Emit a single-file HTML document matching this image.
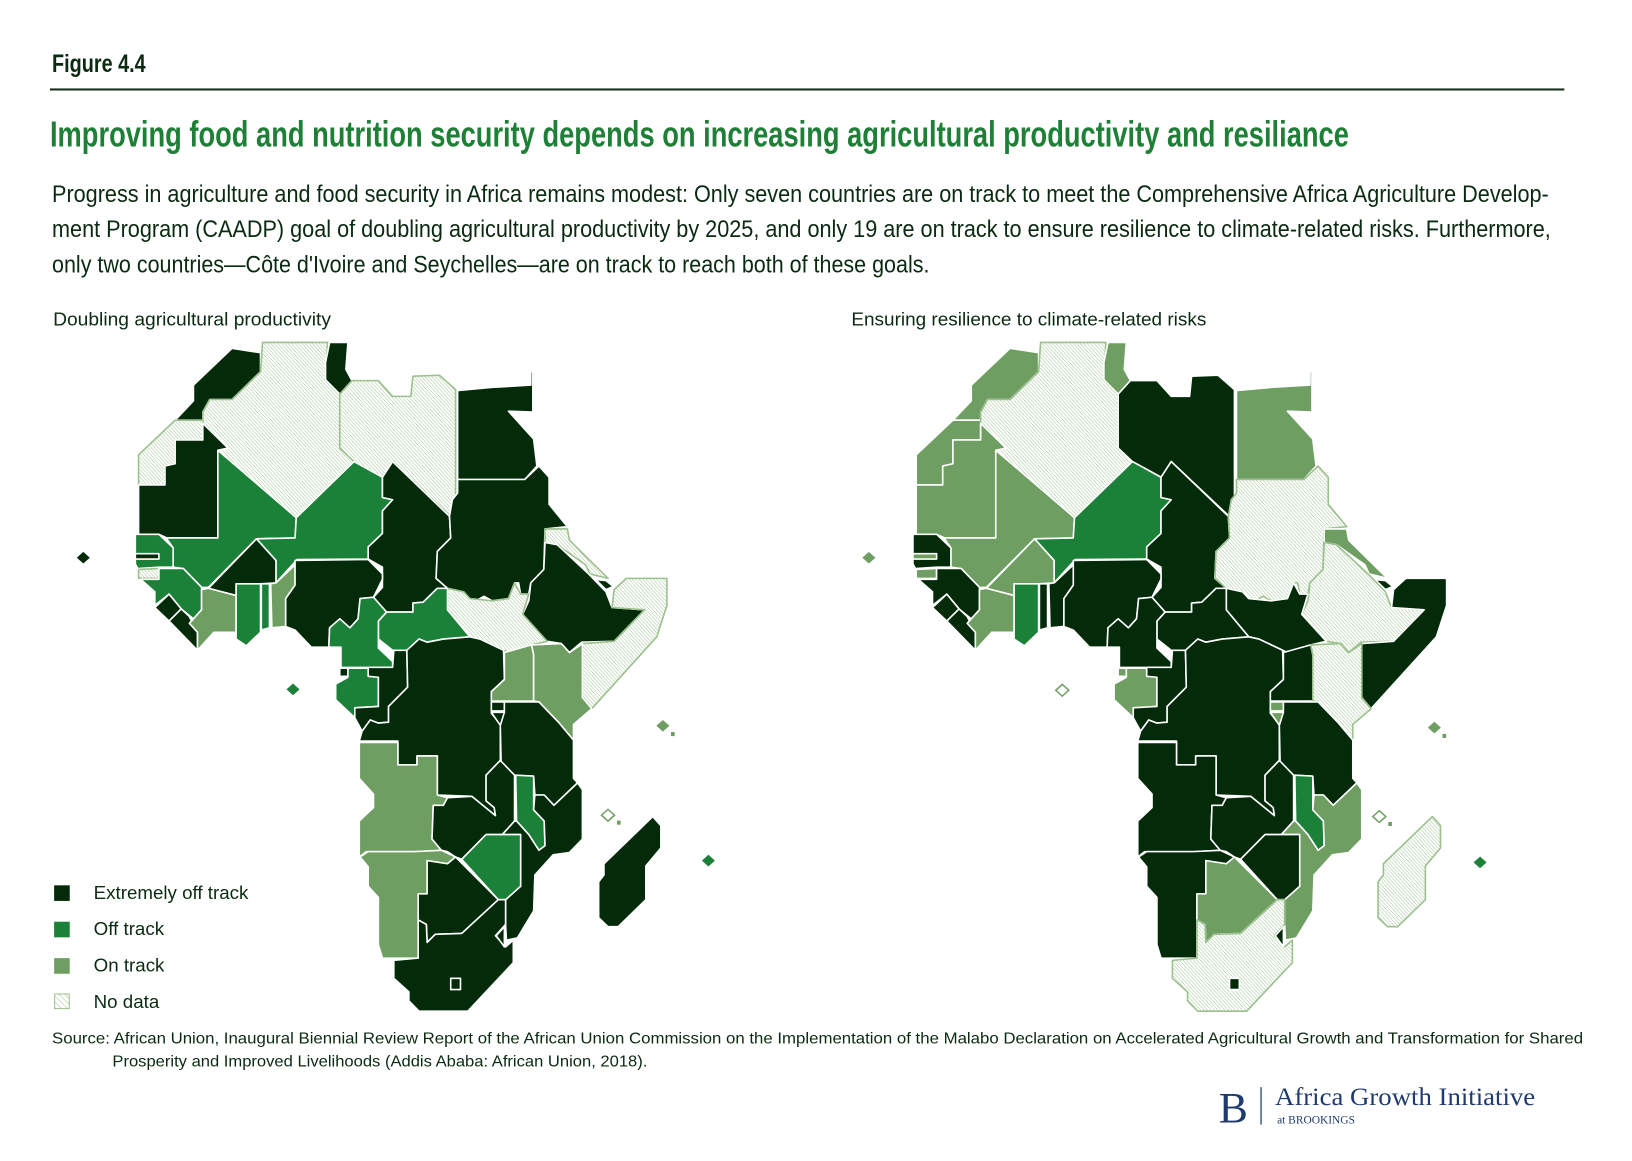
<!DOCTYPE html>
<html><head><meta charset="utf-8"><style>
html,body{margin:0;padding:0;background:#fff;}
svg{display:block;}
text{font-family:"Liberation Sans Narrow","Liberation Sans",sans-serif;}
</style></head><body>
<svg id="page" width="1632" height="1161" viewBox="0 0 1568 1116" preserveAspectRatio="none" xmlns="http://www.w3.org/2000/svg">
<defs>
<pattern id="hatch" patternUnits="userSpaceOnUse" width="6" height="6" patternTransform="rotate(-45)">
<rect width="6" height="6" fill="#fff"/><line x1="0" y1="0" x2="0" y2="6" stroke="#9cc08e" stroke-width="2.2"/>
</pattern>
<pattern id="hatch2" patternUnits="userSpaceOnUse" width="4" height="4" patternTransform="rotate(-45)">
<rect width="4" height="4" fill="#fff"/><line x1="0" y1="0" x2="0" y2="4" stroke="#9cc08e" stroke-width="1"/>
</pattern>
</defs>
<text x="50" y="69" font-size="24" font-weight="bold" fill="#0b2a12" textLength="90" lengthAdjust="spacingAndGlyphs">Figure 4.4</text>
<rect x="48" y="85" width="1455" height="2" fill="#1a2e1c"/>
<text x="48" y="141" font-size="35" font-weight="bold" fill="#1e7f36" textLength="1248" lengthAdjust="spacingAndGlyphs">Improving food and nutrition security depends on increasing agricultural productivity and resiliance</text>
<g font-size="23" fill="#0b2a12">
<text x="50" y="194" textLength="1438" lengthAdjust="spacingAndGlyphs">Progress in agriculture and food security in Africa remains modest: Only seven countries are on track to meet the Comprehensive Africa Agriculture Develop-</text>
<text x="50" y="228" textLength="1440" lengthAdjust="spacingAndGlyphs">ment Program (CAADP) goal of doubling agricultural productivity by 2025, and only 19 are on track to ensure resilience to climate-related risks. Furthermore,</text>
<text x="50" y="262" textLength="843" lengthAdjust="spacingAndGlyphs">only two countries—Côte d'Ivoire and Seychelles—are on track to reach both of these goals.</text>
</g>
<text x="51" y="313" font-size="18" fill="#0b2a12" textLength="267" lengthAdjust="spacingAndGlyphs">Doubling agricultural productivity</text>
<text x="818" y="313" font-size="18" fill="#0b2a12" textLength="341" lengthAdjust="spacingAndGlyphs">Ensuring resilience to climate-related risks</text>

<g id="mapL" transform="translate(98,327) scale(0.3905,0.432)"></g>
<g id="mapR" transform="translate(845,327) scale(0.392,0.432)"></g>

<g font-size="18" fill="#0b2a12">
<g><rect x="52" y="851" width="15" height="15" fill="#032b0a"/><text x="90" y="864">Extremely off track</text></g>
<g><rect x="52" y="886" width="15" height="15" fill="#1b8038"/><text x="90" y="899">Off track</text></g>
<g><rect x="52" y="921" width="15" height="15" fill="#6f9e62"/><text x="90" y="934">On track</text></g>
<g><rect x="52.5" y="955.5" width="14" height="14" fill="url(#hatch2)" stroke="#9cc08e"/><text x="90" y="969">No data</text></g>
</g>
<g font-size="15" fill="#0b2a12">
<text x="50" y="1003" textLength="1471" lengthAdjust="spacingAndGlyphs">Source: African Union, Inaugural Biennial Review Report of the African Union Commission on the Implementation of the Malabo Declaration on Accelerated Agricultural Growth and Transformation for Shared</text>
<text x="108" y="1025" textLength="514" lengthAdjust="spacingAndGlyphs">Prosperity and Improved Livelihoods (Addis Ababa: African Union, 2018).</text>
</g>
<g fill="#1f3a6e" font-family="'Liberation Serif',serif">
<text x="1171" y="1079" font-size="42" style="font-family:'Liberation Serif',serif">B</text>
<rect x="1211" y="1045" width="1.2" height="36" fill="#1f3a6e"/>
<text x="1225" y="1062" font-size="24" style="font-family:'Liberation Serif',serif" textLength="250" lengthAdjust="spacingAndGlyphs">Africa Growth Initiative</text>
<text x="1227" y="1080" font-size="11" style="font-family:'Liberation Serif',serif">at BROOKINGS</text>
</g>
</svg>
<script>
// status codes: E = extremely off track, O = off track, N = on track, X = no data
const countries = ["Morocco","Western Sahara","Algeria","Tunisia","Libya","Egypt","Mauritania","Mali","Niger","Chad","Sudan","Eritrea","Djibouti","Ethiopia","Somalia","South Sudan","CAR","Senegal","Gambia","Guinea-Bissau","Guinea","Sierra Leone","Liberia","Cote d'Ivoire","Burkina Faso","Ghana","Togo","Benin","Nigeria","Cameroon","Equatorial Guinea","Gabon","Congo","DRC","Uganda","Kenya","Rwanda","Burundi","Tanzania","Angola","Zambia","Malawi","Mozambique","Zimbabwe","Namibia","Botswana","South Africa","Lesotho","Swaziland","Madagascar"];
const productivity = ["E","X","X","E","X","E","E","O","O","E","E","X","E","E","X","X","O","O","E","X","O","E","E","N","E","O","O","N","E","O","E","O","E","E","N","N","E","E","E","N","E","O","E","O","N","E","E","E","E","E"];
const resilience = ["N","N","X","N","E","N","N","N","O","E","X","N","E","X","E","E","E","E","N","N","E","E","E","N","N","O","E","E","E","E","N","N","E","E","E","X","N","N","E","E","E","O","N","E","E","N","X","E","E","X"];
const islands = ["Cape Verde","Sao Tome","Comoros","Seychelles","Mauritius"];
const islandsProd = ["E","O","N","N","O"];
const islandsRes = ["N","N","N","N","O"];

const shapes = {
"Morocco":[[180,178],[225,135],[225,100],[320,18],[390,28],[390,70],[320,132],[265,132],[248,160],[248,178]],
"Western Sahara":[[90,255],[180,178],[248,178],[248,222],[180,222],[180,275],[155,280],[155,322],[90,322]],
"Algeria":[[248,178],[248,160],[265,132],[320,132],[390,70],[395,5],[555,5],[550,88],[585,120],[585,240],[620,270],[478,395],[285,245],[248,215]],
"Tunisia":[[560,5],[605,5],[600,65],[615,90],[585,120],[550,88],[550,50]],
"Libya":[[585,120],[615,90],[680,90],[715,125],[760,125],[765,80],[830,78],[870,110],[870,395],[855,390],[715,270],[690,305],[620,270],[585,240]],
"Egypt":[[875,112],[960,105],[1055,100],[1055,70],[1060,70],[1060,160],[1000,158],[1062,220],[1070,280],[1040,310],[875,310]],
"Mauritania":[[90,322],[155,322],[155,280],[180,275],[180,222],[248,222],[248,185],[310,240],[285,245],[285,440],[160,440],[140,432],[90,432]],
"Mali":[[285,245],[478,395],[475,440],[380,442],[262,550],[245,550],[200,508],[175,505],[175,462],[158,440],[285,440]],
"Niger":[[478,395],[620,270],[690,305],[690,350],[715,355],[690,380],[690,430],[655,460],[655,487],[480,488],[428,540],[428,490],[380,442],[475,440]],
"Chad":[[690,305],[715,270],[855,392],[858,440],[825,470],[822,530],[850,552],[825,552],[790,583],[765,585],[765,605],[700,605],[668,572],[690,550],[690,505],[655,487],[655,460],[690,430],[690,380],[715,355],[690,350]],
"Sudan":[[875,310],[1040,310],[1075,280],[1100,305],[1100,365],[1145,415],[1090,420],[1087,510],[1055,540],[1050,565],[1030,565],[1025,540],[1015,540],[1000,575],[960,580],[940,570],[920,580],[905,575],[890,560],[850,552],[822,530],[825,470],[858,440],[855,392],[862,355],[875,340]],
"Eritrea":[[1090,420],[1145,420],[1150,445],[1245,530],[1200,520],[1190,500],[1120,455],[1090,450]],
"Djibouti":[[1215,533],[1240,535],[1258,548],[1240,555]],
"Ethiopia":[[1090,450],[1120,455],[1195,518],[1240,560],[1255,595],[1335,600],[1260,670],[1180,672],[1150,695],[1130,675],[1095,670],[1035,610],[1050,580],[1055,540],[1087,510]],
"Somalia":[[1260,555],[1255,595],[1335,600],[1260,670],[1182,675],[1182,795],[1205,820],[1365,660],[1390,590],[1390,530],[1290,530]],
"South Sudan":[[850,552],[890,560],[905,575],[960,580],[1000,575],[1015,540],[1030,565],[1050,565],[1035,610],[1095,670],[1057,678],[1000,695],[988,690],[930,665],[905,660],[850,600]],
"CAR":[[700,605],[765,605],[765,585],[790,583],[825,552],[850,552],[850,600],[905,660],[840,665],[800,672],[780,665],[750,690],[715,690],[680,665],[680,625]],
"Senegal":[[82,432],[140,432],[175,462],[175,505],[140,505],[88,508],[82,498]],
"Gambia":[[82,475],[140,475],[140,487],[82,487]],
"Guinea-Bissau":[[90,510],[140,508],[140,530],[90,530]],
"Guinea":[[95,532],[140,532],[140,508],[200,508],[245,550],[245,600],[225,620],[195,598],[165,565],[130,590],[130,560]],
"Sierra Leone":[[130,595],[165,565],[195,598],[165,625]],
"Liberia":[[165,625],[195,598],[215,615],[235,650],[235,690]],
"Cote d'Ivoire":[[215,630],[245,600],[245,555],[262,552],[330,568],[330,650],[275,650],[235,690],[235,650]],
"Burkina Faso":[[262,552],[380,442],[428,490],[428,540],[390,542],[330,542],[330,568]],
"Ghana":[[330,542],[390,542],[390,650],[355,680],[330,665]],
"Togo":[[392,542],[412,542],[412,640],[392,645]],
"Benin":[[415,542],[428,540],[475,500],[475,545],[452,575],[452,637],[418,640]],
"Nigeria":[[475,490],[655,488],[690,520],[690,532],[668,572],[635,575],[630,620],[610,640],[585,620],[560,640],[558,683],[515,683],[475,645],[452,637],[452,575],[475,545]],
"Cameroon":[[560,640],[585,620],[610,640],[630,620],[635,575],[668,572],[700,605],[680,625],[680,685],[715,715],[715,728],[588,728],[588,683],[558,683]],
"Equatorial Guinea":[[585,730],[605,730],[605,748],[585,748]],
"Gabon":[[575,765],[605,750],[605,730],[655,730],[655,748],[680,748],[680,815],[622,818],[622,840],[575,800]],
"Congo":[[622,840],[622,818],[680,815],[680,750],[655,748],[655,728],[715,728],[718,690],[750,690],[752,772],[705,815],[705,850],[680,852],[660,845],[640,870]],
"DRC":[[633,892],[640,870],[660,845],[680,852],[705,850],[705,815],[752,772],[750,690],[780,665],[800,672],[840,665],[905,660],[930,665],[988,690],[990,755],[958,782],[958,830],[980,855],[980,935],[945,968],[945,1025],[965,1040],[968,1058],[910,1015],[825,1012],[825,925],[775,925],[775,945],[728,945],[728,892]],
"Uganda":[[990,695],[1057,678],[1062,700],[1062,803],[958,803],[958,782],[990,755]],
"Kenya":[[1057,678],[1130,675],[1150,695],[1182,675],[1182,795],[1205,820],[1160,855],[1160,890],[1125,852],[1075,805],[1062,803],[1062,700]],
"Rwanda":[[958,805],[990,805],[990,825],[958,825]],
"Burundi":[[958,828],[990,828],[990,845],[980,857]],
"Tanzania":[[990,828],[990,805],[1075,805],[1125,852],[1160,890],[1160,975],[1170,985],[1112,1035],[1088,1012],[1065,1012],[1062,970],[1015,968],[982,940],[980,857]],
"Angola":[[633,895],[728,895],[728,945],[775,945],[775,925],[825,925],[825,1012],[850,1018],[840,1035],[815,1035],[812,1110],[835,1135],[770,1138],[650,1138],[633,1150],[633,1070],[668,1040],[668,1010],[633,975]],
"Zambia":[[815,1035],[840,1035],[850,1018],[910,1015],[968,1058],[965,1040],[945,1025],[945,968],[980,935],[1015,968],[1015,1070],[985,1100],[945,1100],[885,1155],[870,1150],[850,1138],[835,1135],[812,1110]],
"Malawi":[[1018,968],[1062,970],[1062,1045],[1088,1070],[1090,1125],[1075,1135],[1050,1100],[1020,1070]],
"Mozambique":[[1065,1012],[1088,1012],[1112,1035],[1170,985],[1182,1000],[1182,1110],[1150,1140],[1110,1145],[1065,1190],[1062,1270],[1022,1330],[995,1335],[993,1300],[993,1245],[1030,1215],[1030,1100],[985,1100],[1015,1070],[1020,1070],[1050,1100],[1075,1135],[1090,1125],[1088,1070],[1062,1045]],
"Zimbabwe":[[885,1155],[945,1100],[1030,1100],[1030,1215],[993,1245],[975,1245]],
"Namibia":[[635,1150],[655,1138],[770,1138],[835,1135],[870,1150],[850,1165],[800,1158],[800,1232],[778,1232],[778,1375],[690,1375],[680,1345],[680,1240],[655,1215],[655,1172]],
"Botswana":[[800,1158],[850,1165],[870,1150],[975,1245],[885,1320],[820,1322],[800,1340],[798,1300],[778,1290],[778,1232],[800,1232]],
"South Africa":[[718,1380],[778,1375],[778,1290],[798,1300],[800,1340],[820,1322],[885,1320],[975,1245],[993,1245],[993,1300],[968,1325],[993,1350],[1012,1335],[1012,1385],[900,1493],[780,1493],[755,1470],[755,1450],[718,1420]],
"Lesotho":[[858,1420],[882,1420],[882,1445],[858,1445]],
"Swaziland":[[970,1325],[990,1305],[990,1350]],
"Madagascar":[[1222,1205],[1235,1190],[1235,1165],[1355,1060],[1375,1080],[1375,1130],[1338,1170],[1338,1245],[1270,1305],[1245,1305],[1222,1285]]
};
const islandPosL = {"Cape Verde":[-46,484],"Sao Tome":[470,777],"Comoros":[1245,1057],"Seychelles":[1380,858],"Mauritius":[1492,1158]};
const islandPosR = {"Cape Verde":[-26,484],"Sao Tome":[448,779],"Comoros":[1225,1060],"Seychelles":[1360,862],"Mauritius":[1472,1162]};

const colorOf = {E:"#032b0a",O:"#1b8038",N:"#6f9e62",X:"url(#hatch)"};
const NS="http://www.w3.org/2000/svg";
function slug(s){return s.toLowerCase().replace(/[^a-z]+/g,'-').replace(/-$/,'');}
function drawMap(gid, statuses, islStatuses, islPos, prefix){
  const g=document.getElementById(gid);
  countries.forEach((c,i)=>{
    const p=document.createElementNS(NS,'polygon');
    p.setAttribute('points',shapes[c].map(q=>q.join(',')).join(' '));
    const st=statuses[i];
    p.setAttribute('fill',colorOf[st]);
    p.setAttribute('stroke',st==='X'?'#9cc08e':'#ffffff');
    p.setAttribute('stroke-width','1.6');
    p.setAttribute('vector-effect','non-scaling-stroke');
    p.setAttribute('stroke-linejoin','round');
    
    
    g.appendChild(p);
  });
  islands.forEach((c,i)=>{
    const [x,y]=islPos[c];
    const st=islStatuses[i];
    const outline = (c==='Comoros') || (c==='Sao Tome' && prefix==='resilience');
    const d=document.createElementNS(NS,'polygon');
    d.setAttribute('points',`${x},${y-13} ${x+16},${y} ${x},${y+13} ${x-16},${y}`);
    d.setAttribute('fill',outline?'#fff':colorOf[st]);
    d.setAttribute('stroke',outline?colorOf[st]:'none');
    d.setAttribute('stroke-width','1.5');
    d.setAttribute('vector-effect','non-scaling-stroke');
    
    
    g.appendChild(d);
    if(c==='Comoros'||c==='Seychelles'){
      const s=document.createElementNS(NS,'rect');
      s.setAttribute('x',x+(c==='Comoros'?22:20));
      s.setAttribute('y',y+(c==='Comoros'?12:14));
      s.setAttribute('width','9');s.setAttribute('height','9');
      s.setAttribute('fill',colorOf[st]);
      
      
      g.appendChild(s);
    }
  });
}
drawMap('mapL', productivity, islandsProd, islandPosL, 'productivity');
drawMap('mapR', resilience, islandsRes, islandPosR, 'resilience');
</script>
</body></html>
